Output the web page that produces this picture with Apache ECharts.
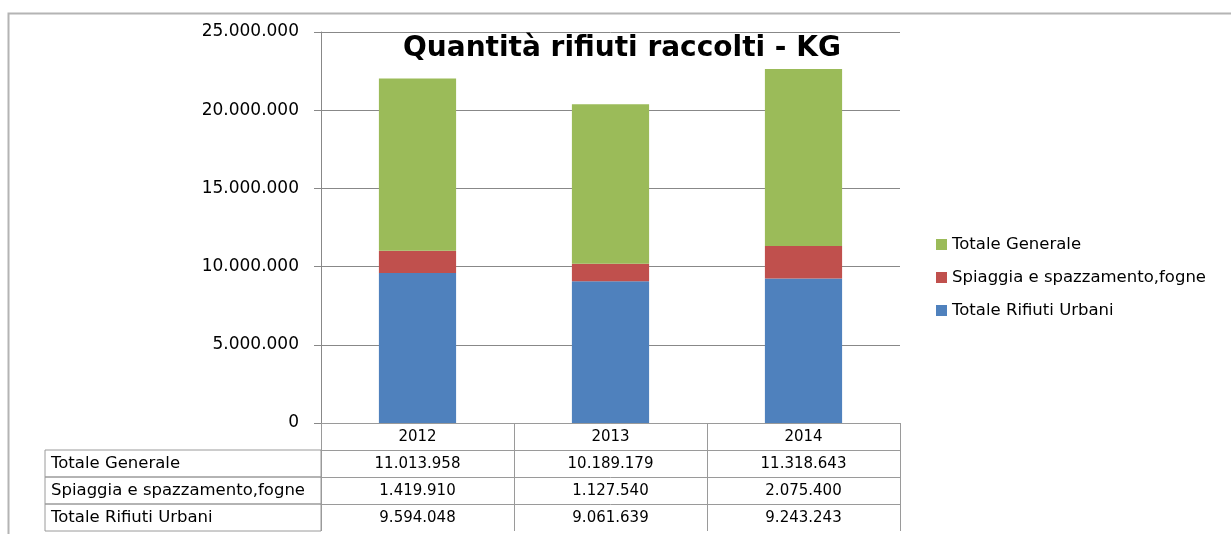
<!DOCTYPE html>
<html>
<head>
<meta charset="utf-8">
<title>Quantità rifiuti raccolti - KG</title>
<script src="https://cdn.jsdelivr.net/npm/echarts@6/dist/echarts.min.js"></script>
<style>
    html, body { margin: 0; padding: 0; background: #fff; }
    #chart { width: 1231px; height: 534px; }
</style>
</head>
<body>
<div id="chart"></div>
<script>
/* dati */
var anni = ['2012', '2013', '2014'];
var totaleGenerale = [11013958, 10189179, 11318643];
var spiaggia = [1419910, 1127540, 2075400];
var rifiutiUrbani = [9594048, 9061639, 9243243];
var yTicks = [0, 5000000, 10000000, 15000000, 20000000, 25000000];

var FONT = 'DejaVu Sans';
var BORDO = '#9a9a9a';

// 11013958 -> 11.013.958
var fmt = function (v) {
    return String(v).replace(/\B(?=(\d{3})+(?!\d))/g, '.');
};

// asse della tabella dati sotto al grafico
var rigaTabella = function (nome, valori, offset) {
    return {
        type: 'category',
        position: 'bottom',
        offset: offset,
        data: valori.map(fmt),
        boundaryGap: true,
        axisLine: { show: true, lineStyle: { color: BORDO, width: 1 } },
        axisTick: { show: true, length: 27, interval: 0, lineStyle: { color: BORDO } },
        axisLabel: { margin: 7, interval: 0, color: '#000', fontFamily: FONT, fontSize: 15 },
        splitLine: { show: false },
        name: '{c|' + nome + '}',
        nameLocation: 'start',
        nameGap: 276,
        nameMoveOverlap: false,
        nameTruncate: { maxWidth: 270 },
        nameTextStyle: {
            align: 'left',
            verticalAlign: 'top',
            borderColor: BORDO,
            borderWidth: 1,
            padding: [0, 0, 0, 6],
            rich: {
                c: {
                    height: 27,
                    lineHeight: 27,
                    color: '#000',
                    fontFamily: FONT,
                    fontSize: 16.5
                }
            }
        }
    };
};

var option = {
    animation: false,
    backgroundColor: '#fff',
    title: {
        text: 'Quantità rifiuti raccolti - KG',
        left: 398,
        top: 30,
        textStyle: {
            color: '#000',
            fontFamily: FONT,
            fontWeight: 'bold',
            fontSize: 28
        }
    },
    color: ['#4F81BD', '#C0504D', '#9BBB59'],
    legend: {
        orient: 'vertical',
        left: 931,
        top: 231,
        itemWidth: 11,
        itemHeight: 11,
        itemGap: 16,
        icon: 'rect',
        data: ['Totale Generale', 'Spiaggia e spazzamento,fogne', 'Totale Rifiuti Urbani'],
        textStyle: { color: '#000', fontFamily: FONT, fontSize: 16.5 }
    },
    grid: {
        left: 321,
        right: 331,
        top: 32,
        bottom: 111,
        containLabel: false
    },
    xAxis: [
        {
            type: 'category',
            position: 'bottom',
            data: anni,
            boundaryGap: true,
            axisLine: { show: true, lineStyle: { color: BORDO, width: 1 } },
            axisTick: { show: true, length: 27, interval: 0, lineStyle: { color: BORDO } },
            axisLabel: { margin: 7, interval: 0, color: '#000', fontFamily: FONT, fontSize: 15 },
            splitLine: { show: false }
        },
        rigaTabella('Totale Generale', totaleGenerale, 27),
        rigaTabella('Spiaggia e spazzamento,fogne', spiaggia, 54),
        rigaTabella('Totale Rifiuti Urbani', rifiutiUrbani, 81)
    ],
    yAxis: {
        type: 'value',
        min: yTicks[0],
        max: yTicks[yTicks.length - 1],
        interval: yTicks[1] - yTicks[0],
        axisLine: { show: true, lineStyle: { color: '#888', width: 1 } },
        axisTick: { show: true, length: 7, lineStyle: { color: '#888' } },
        axisLabel: {
            margin: 22,
            color: '#000',
            fontFamily: FONT,
            fontSize: 17,
            formatter: function (v) { return fmt(v); }
        },
        splitLine: { show: true, lineStyle: { color: '#888', width: 1 } }
    },
    graphic: [
        {
            // cornice esterna del grafico
            type: 'rect',
            silent: true,
            z: -1,
            shape: { x: 8.5, y: 13.5, width: 1400, height: 700 },
            style: { fill: 'none', stroke: '#b4b4b4', lineWidth: 2 }
        }
    ],
    series: [
        {
            name: 'Totale Rifiuti Urbani',
            type: 'bar',
            stack: 'tot',
            barWidth: '40%',
            data: rifiutiUrbani
        },
        {
            name: 'Spiaggia e spazzamento,fogne',
            type: 'bar',
            stack: 'tot',
            barWidth: '40%',
            data: spiaggia
        },
        {
            name: 'Totale Generale',
            type: 'bar',
            stack: 'tot',
            barWidth: '40%',
            data: totaleGenerale
        }
    ]
};

var myChart = echarts.init(document.getElementById('chart'));
myChart.setOption(option);
</script>
</body>
</html>
